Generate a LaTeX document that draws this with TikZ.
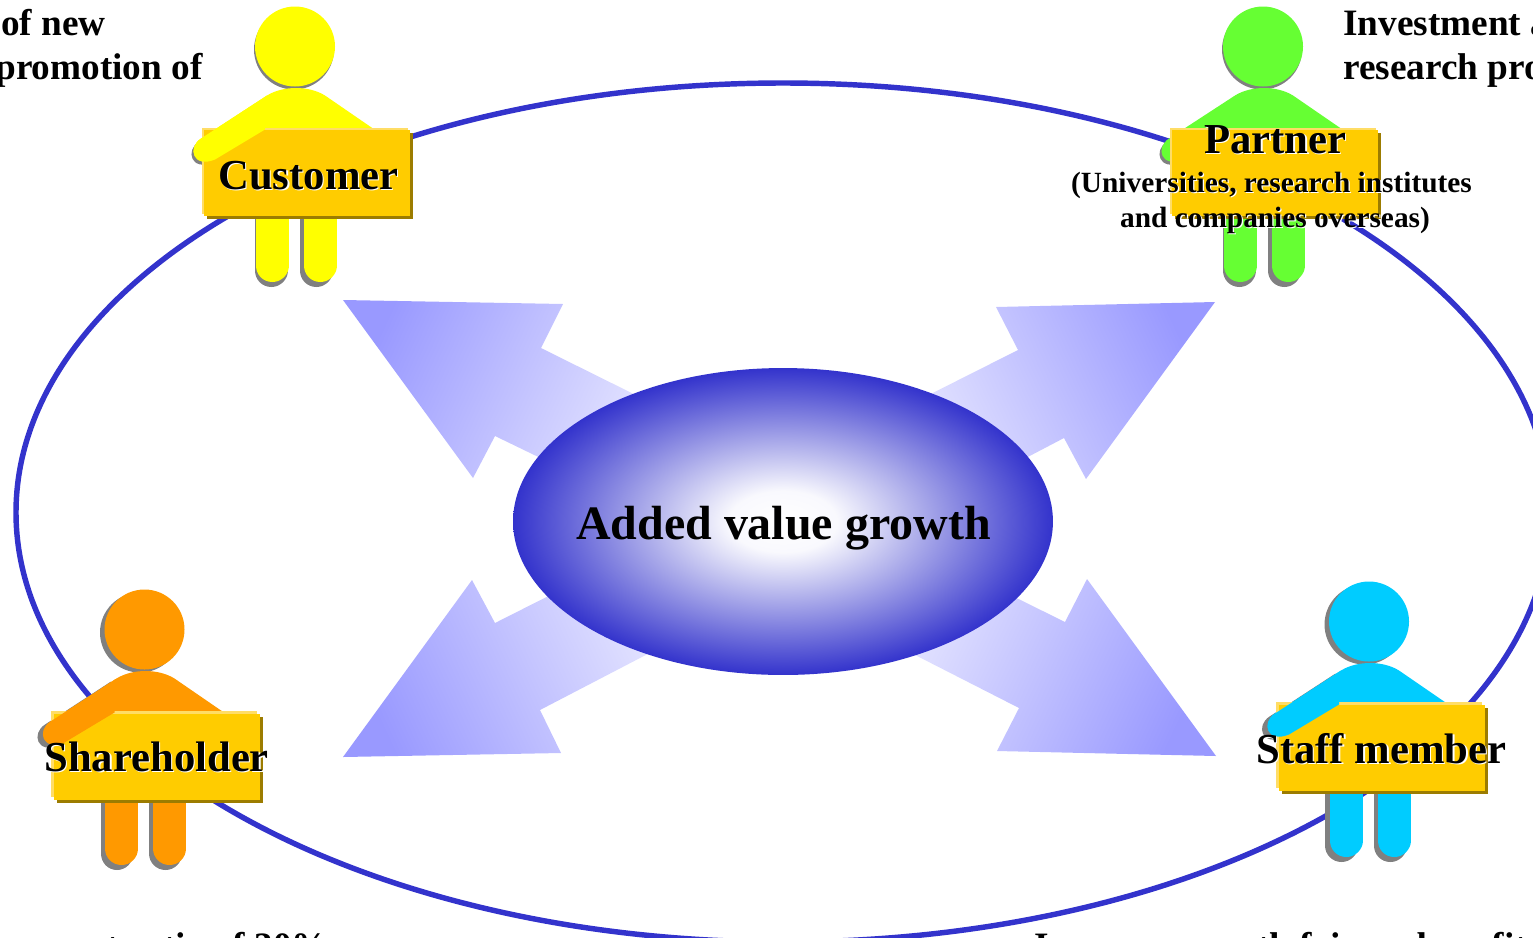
\documentclass[tikz,border=0pt]{standalone}
\usepackage{fontspec}
\setmainfont{Liberation Serif}
\usetikzlibrary{shapes.geometric}

\definecolor{ringblue}{HTML}{3333CC}
\definecolor{arrowdark}{HTML}{9999FF}
\definecolor{arrowlight}{HTML}{E8E8FF}
\definecolor{signfill}{HTML}{FFCC00}
\definecolor{signtop}{HTML}{FFDD66}
\definecolor{signshadow}{HTML}{9C7C00}
\definecolor{bodyshadow}{HTML}{808080}
\definecolor{customerc}{HTML}{FFFF00}
\definecolor{partnerc}{HTML}{66FF33}
\definecolor{holderc}{HTML}{FF9900}
\definecolor{staffc}{HTML}{00CCFF}

\pgfdeclareradialshading{growthshade}{\pgfpoint{0bp}{0bp}}{color(0bp)=(white); color(5bp)=(white!97!ringblue); color(25bp)=(ringblue); color(50bp)=(ringblue)}

\tikzset{
  textbase/.style={inner sep=0pt, anchor=base west, font=\bfseries\fontsize{21.2}{25}\selectfont},
  signbase/.style={inner sep=0pt, anchor=base west, font=\bfseries\fontsize{24.3}{28}\selectfont},
  subbase/.style={inner sep=0pt, anchor=base, font=\bfseries\fontsize{16.7}{20}\selectfont},
  flowarrow/.style={shade, top color=arrowdark, bottom color=arrowlight, shading angle=#1},
}

% head, body, legs and the arm behind the sign
\newcommand{\drawperson}[4]{
  \begin{scope}[shift={(#1,#2)}]
    \fill [bodyshadow] (#4,3) circle [radius=40];
    \draw [bodyshadow, line width=0.66cm, line cap=round] (-23+#4,100) -- (-23+#4,224);
    \draw [bodyshadow, line width=0.66cm, line cap=round] (21,100) -- (21,224);
    \fill [bodyshadow, shift={(#4-1,3)}] (-28,49) -- (-94,92) .. controls (-108,101) and (-102,122) .. (-80,113) -- (-30,83) -- cycle;
    \fill [#3] (0,0) circle [radius=40];
    \fill [#3] (-94,92) .. controls (-108,101) and (-102,122) .. (-80,113) -- (-30,83) -- (-60,110) -- (78,110) -- (78,82) -- (30,49) .. controls (14,39) and (-12,39) .. (-28,49) -- cycle;
    \draw [#3, line width=0.66cm, line cap=round] (-23,100) -- (-23,219);
    \draw [#3, line width=0.66cm, line cap=round] (25,100) -- (25,219);
  \end{scope}
}
% the arm that lies over the sign
\newcommand{\drawarm}[3]{
  \fill [#3, shift={(#1,#2)}] (-28,49) -- (-94,92) .. controls (-108,101) and (-102,122) .. (-80,113) -- (-30,83) -- cycle;
}
\newcommand{\drawsign}[3]{
  \fill [signtop] (#1,#2) rectangle +(206,86);
  \fill [signshadow] (#1+#3+3,#2+#3+3) rectangle +(206,86);
  \fill [signfill] (#1+#3,#2+#3) rectangle +(206,86);
}
\newcommand{\signtext}[1]{\rlap{\kern0.7pt\raisebox{-0.7pt}{\color{white}#1}}#1}

\begin{document}
\begin{tikzpicture}[x=0.02cm, y=-0.02cm]
  \useasboundingbox (0,0) rectangle (1533,937);
  \clip (0,0) rectangle (1533,937);

  \draw [ringblue, line width=3.1pt] (783,512.5) ellipse [x radius=767, y radius=429.5];

  \path [flowarrow=65] (343,300) -- (563,304) -- (541,348) -- (680,417) -- (590,482) -- (495,436) -- (473,478) -- cycle;
  \path [flowarrow=-65] (1215,302) -- (996,307) -- (1018,350) -- (885,417) -- (980,482) -- (1064,438) -- (1086,479) -- cycle;
  \path [flowarrow=115] (343,757) -- (561,753) -- (540,710) -- (690,632) -- (590,575) -- (495,623) -- (472,580) -- cycle;
  \path [flowarrow=-115] (1216,756) -- (997,751) -- (1019,708) -- (870,632) -- (970,575) -- (1065,622) -- (1087,579) -- cycle;

  \node [ellipse, shade, shading=growthshade, minimum width=10.8cm, minimum height=6.14cm, inner sep=0pt] (core) at (783,521.5) {};
  \node [inner sep=0pt, anchor=base, font=\bfseries\fontsize{27.3}{32}\selectfont] (growth) at (783.5,539) {Added value growth};

  \drawperson{295}{46.5}{customerc}{-1}
  \drawperson{1263}{46.5}{partnerc}{-1}
  \drawperson{144.5}{629.5}{holderc}{-4.5}
  \drawperson{1369}{621.5}{staffc}{-4.5}

  \drawsign{202}{128}{2}
  \drawsign{1170}{128}{2}
  \drawsign{51}{711}{3}
  \drawsign{1276}{702}{3}

  \drawarm{295}{46.5}{customerc}
  \drawarm{144.5}{629.5}{holderc}
  \drawarm{1369}{621.5}{staffc}

  \node [signbase] (customer) at (218,189) {\signtext{Customer}};
  \node [signbase] (partner) at (1204,153) {\signtext{Partner}};
  \node [signbase] (holder) at (44,771.5) {\signtext{Shareholder}};
  \node [signbase] (staff) at (1256,763) {\signtext{Staff member}};
  \node [subbase] (partnerA) at (1271.5,192) {\signtext{(Universities, research institutes}};
  \node [subbase] (partnerB) at (1275,227) {\signtext{and companies overseas)}};

  \node [textbase] (topleftA) at (1,35) {of new};
  \node [textbase] (topleftB) at (-5,79) {promotion of};
  \node [textbase] (toprightA) at (1343,35) {Investment a};
  \node [textbase] (toprightB) at (1343,79) {research pro};
  \node [textbase] (bottomleft) at (9,958) {payout ratio of 30\%};
  \node [textbase] (bottomright) at (1034,958) {Increase growth fair and profit};
\end{tikzpicture}
\end{document}
